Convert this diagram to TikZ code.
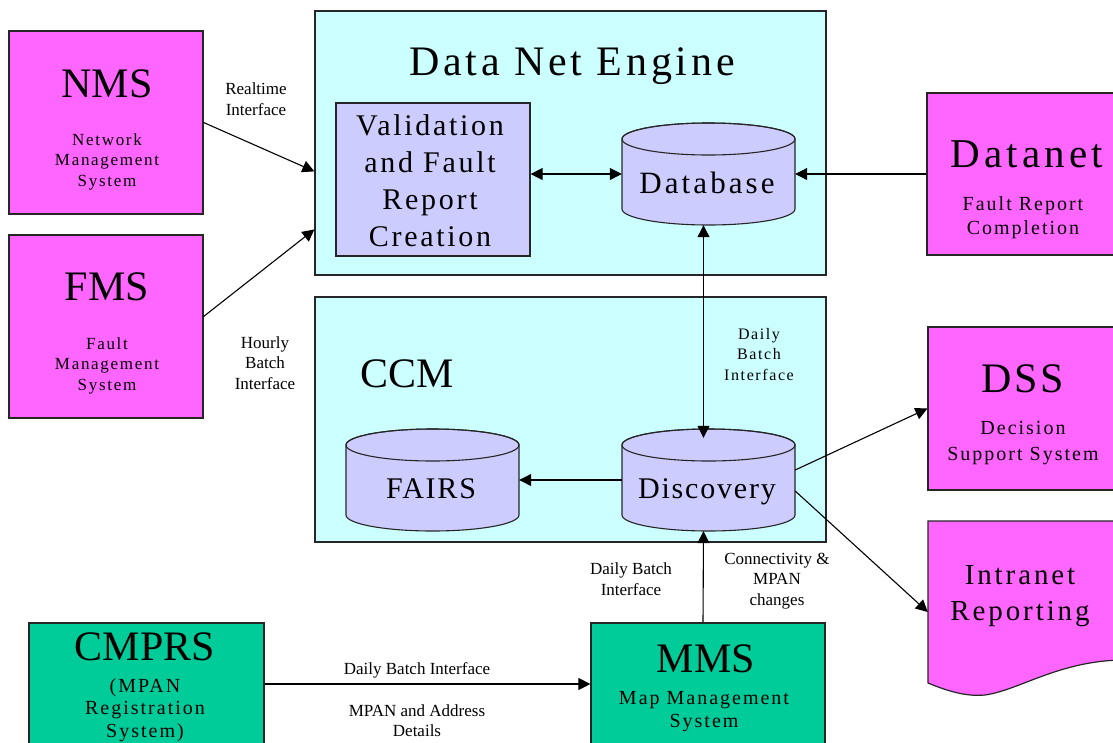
\documentclass[tikz,border=0pt]{standalone}
\usepackage{fontspec}
\setmainfont{Liberation Serif}
\newfontfamily\lsfont[LetterSpace=10]{Liberation Serif}
\newfontfamily\lsfontb[LetterSpace=6]{Liberation Serif}
\newfontfamily\lsfontc[LetterSpace=9]{Liberation Serif}
\usetikzlibrary{arrows.meta,calc}
\definecolor{mag}{HTML}{FF66FF}
\definecolor{lcyan}{HTML}{CCFFFF}
\definecolor{lav}{HTML}{CCCCFF}
\definecolor{sea}{HTML}{00CC99}
\newcommand{\mycyl}[5]{%
  \path[draw=black!85,line width=1.1pt,fill=lav]
    (#2,#3+16) -- (#2,#5-16)
    arc[start angle=180,end angle=0,x radius={(#4-#2)/2},y radius=16]
    -- (#4,#3+16)
    arc[start angle=0,end angle=-180,x radius={(#4-#2)/2},y radius=16] -- cycle;
  \draw[black!85,line width=1.1pt] ({(#2+#4)/2},#3+16) ellipse[x radius={(#4-#2)/2},y radius=16];
  \node[inner sep=0pt,minimum width={(#4-#2)*1pt},minimum height={(#5-#3)*1pt}] (#1) at ({(#2+#4)/2},{(#3+#5)/2}) {};
}
\begin{document}
\begin{tikzpicture}[x=1pt,y=-1pt,
  box/.style={draw=black!85,line width=1.2pt,inner sep=0pt,rectangle},
  arr/.style={line width=1.1pt,-{Triangle[length=12pt,width=12pt]}},
  darr/.style={line width=1.1pt,{Triangle[length=12pt,width=12pt]}-{Triangle[length=12pt,width=12pt]}},
  big/.style={font=\fontsize{42}{44}\selectfont,anchor=base,inner sep=0pt},
  sub/.style={font=\lsfont\fontsize{17}{20.5}\selectfont,align=center,anchor=base,inner sep=0pt},
  subb/.style={font=\lsfont\fontsize{20}{24}\selectfont,align=center,anchor=base,inner sep=0pt},
  lab/.style={font=\fontsize{17}{20.5}\selectfont,align=center,anchor=base,inner sep=0pt}
]
\useasboundingbox (0,0) rectangle (1113,742);
\clip (0,0) rectangle (1113,742);

% boxes
\node[box,fill=mag,minimum width=194pt,minimum height=183pt] (nms) at (106,122.5) {};
\node[box,fill=mag,minimum width=194pt,minimum height=183pt] (fms) at (106,326.5) {};
\node[box,fill=lcyan,minimum width=511pt,minimum height=264pt] (dne) at (570.5,143) {};
\node[box,fill=lav,minimum width=194pt,minimum height=153pt] (val) at (433,179.5) {};
\node[box,fill=mag,minimum width=198pt,minimum height=162pt] (datanet) at (1026,174) {};
\node[box,fill=lcyan,minimum width=511pt,minimum height=245pt] (ccm) at (570.5,419.5) {};
\node[box,fill=mag,minimum width=197pt,minimum height=163pt] (dss) at (1026.5,408.5) {};
\node[box,fill=sea,minimum width=235pt,minimum height=132pt] (cmprs) at (146.5,689) {};
\node[box,fill=sea,minimum width=234pt,minimum height=132pt] (mms) at (708,689) {};
\path[box,fill=mag] (928,521) -- (1125,521) -- (1125,660)
  .. controls (1060,660) and (1020,690) .. (985,695)
  .. controls (965,697) and (945,690) .. (928,683) -- cycle;
\node[inner sep=0pt,minimum width=197pt,minimum height=162pt] (intra) at (1026.5,602) {};

% cylinders
\mycyl{db}{622}{123}{795}{225}
\mycyl{fairs}{346}{429}{519}{531}
\mycyl{disc}{622}{429}{795}{531}

% connectors
\draw[arr] (nms.east) -- ($(dne.north west)+(0,161)$);
\draw[arr] ($(fms.east)+(0,-10)$) -- ($(dne.north west)+(0,219)$);
\draw[darr] (val.east |- db.west) -- (db.west);
\draw[arr] (datanet.west) -- (db.east);
\draw[darr] ($(db.south)+(-5,0)$) -- ($(disc.north)+(-5,9)$);
\draw[arr] (disc.west) -- (fairs.east);
\draw[arr] ($(mms.north)+(-5,0)$) -- ($(disc.south)+(-5,0)$);
\draw[arr] ($(disc.east)+(0,-10)$) -- (dss.west);
\draw[arr] ($(disc.east)+(0,11)$) -- ($(intra.west)+(0,10)$);
\draw[arr] ($(cmprs.east)+(0,-5)$) coordinate (c1) -- (c1 -| mms.west);

% texts (multi-line nodes: anchor at the last line's baseline)
\node[big] (tnms) at (107,97) {NMS};
\node[sub] (snms) at (107,186) {Network\\Management\\System};
\node[big] (tfms) at (107,300) {FMS};
\node[sub] (sfms) at (107,390) {Fault\\Management\\System};
\node[lab] (lrt) at (256,115) {Realtime\\Interface};
\node[lab] (lhb) at (265,389) {Hourly\\Batch\\Interface};
\node[font=\lsfontc\fontsize{42}{44}\selectfont,anchor=base,inner sep=0pt] (tdne) at (572,75) {Data Net Engine};
\node[font=\lsfontc\fontsize{30}{37}\selectfont,align=center,anchor=base,inner sep=0pt] (tval) at (430,246) {Validation\\and Fault\\Report\\Creation};
\node[font=\lsfont\fontsize{31}{37}\selectfont,anchor=base,inner sep=0pt] (tdb) at (707,193) {Database};
\node[font=\lsfont\fontsize{41}{44}\selectfont,anchor=base,inner sep=0pt] (tdatanet) at (1027,167) {Datanet};
\node[subb] (sdatanet) at (1023,234) {Fault Report\\Completion};
\node[big] (tccm) at (407,387) {CCM};
\node[font=\lsfont\fontsize{16}{20.5}\selectfont,align=center,anchor=base,inner sep=0pt] (ldb) at (759,380) {Daily\\Batch\\Interface};
\node[font=\lsfontb\fontsize{30}{37}\selectfont,anchor=base,inner sep=0pt] (tfairs) at (431,498) {FAIRS};
\node[font=\lsfontb\fontsize{30}{37}\selectfont,anchor=base,inner sep=0pt] (tdisc) at (707,498) {Discovery};
\node[big,font=\lsfontb\fontsize{42}{44}\selectfont] (tdss) at (1023,392) {DSS};
\node[subb,font=\lsfont\fontsize{20}{26}\selectfont] (sdss) at (1023,460) {Decision\\Support System};
\node[font=\lsfont\fontsize{29}{36}\selectfont,align=center,anchor=base,inner sep=0pt] (tintra) at (1020,620) {Intranet\\Reporting};
\node[lab] (lcon) at (777,605) {Connectivity \&\\MPAN\\changes};
\node[lab,font=\fontsize{17}{21}\selectfont] (ldb2) at (631,595) {Daily Batch\\Interface};
\node[big] (tcmprs) at (145,660) {CMPRS};
\node[subb,font=\lsfont\fontsize{20}{22.5}\selectfont] (scmprs) at (145,737) {(MPAN\\Registration\\System)};
\node[big] (tmms) at (706,672) {MMS};
\node[subb,font=\lsfont\fontsize{20}{23}\selectfont] (smms) at (704,727) {Map Management\\System};
\node[lab] (ldb3) at (417,674) {Daily Batch Interface};
\node[lab,font=\fontsize{17}{20}\selectfont] (lmpan) at (417,736) {MPAN and Address\\Details};
\end{tikzpicture}
\end{document}
